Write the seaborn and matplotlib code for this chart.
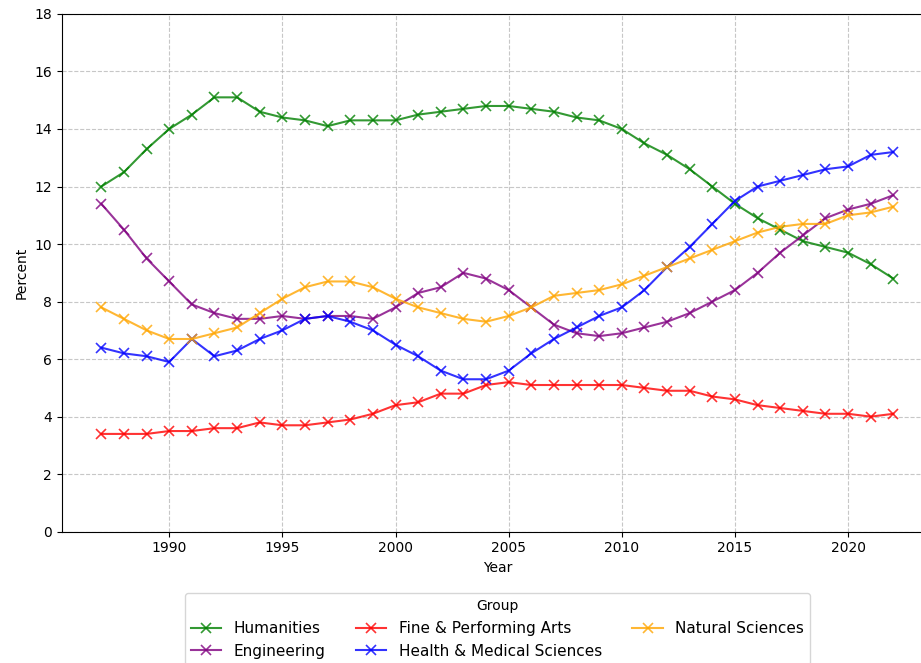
import numpy as np
import pandas as pd
import matplotlib
matplotlib.use("Agg")
import matplotlib.pyplot as plt
import seaborn as sns

# ---------------------------------------------------
# Data (percent of degrees by group)
# ---------------------------------------------------
years = list(range(1987, 2023))

humanities = [12.0, 12.5, 13.3, 14.0, 14.5, 15.1, 15.1, 14.6, 14.4, 14.3, 14.1, 14.3,
              14.3, 14.3, 14.5, 14.6, 14.7, 14.8, 14.8, 14.7, 14.6, 14.4, 14.3, 14.0,
              13.5, 13.1, 12.6, 12.0, 11.4, 10.9, 10.5, 10.1, 9.9, 9.7, 9.3, 8.8]
engineering = [11.4, 10.5, 9.5, 8.7, 7.9, 7.6, 7.4, 7.4, 7.5, 7.4, 7.5, 7.5,
               7.4, 7.8, 8.3, 8.5, 9.0, 8.8, 8.4, 7.8, 7.2, 6.9, 6.8, 6.9,
               7.1, 7.3, 7.6, 8.0, 8.4, 9.0, 9.7, 10.3, 10.9, 11.2, 11.4, 11.7]
fine_arts = [3.4, 3.4, 3.4, 3.5, 3.5, 3.6, 3.6, 3.8, 3.7, 3.7, 3.8, 3.9,
             4.1, 4.4, 4.5, 4.8, 4.8, 5.1, 5.2, 5.1, 5.1, 5.1, 5.1, 5.1,
             5.0, 4.9, 4.9, 4.7, 4.6, 4.4, 4.3, 4.2, 4.1, 4.1, 4.0, 4.1]
health = [6.4, 6.2, 6.1, 5.9, 6.7, 6.1, 6.3, 6.7, 7.0, 7.4, 7.5, 7.3,
          7.0, 6.5, 6.1, 5.6, 5.3, 5.3, 5.6, 6.2, 6.7, 7.1, 7.5, 7.8,
          8.4, 9.2, 9.9, 10.7, 11.5, 12.0, 12.2, 12.4, 12.6, 12.7, 13.1, 13.2]
natural = [7.8, 7.4, 7.0, 6.7, 6.7, 6.9, 7.1, 7.6, 8.1, 8.5, 8.7, 8.7,
           8.5, 8.1, 7.8, 7.6, 7.4, 7.3, 7.5, 7.8, 8.2, 8.3, 8.4, 8.6,
           8.9, 9.2, 9.5, 9.8, 10.1, 10.4, 10.6, 10.7, 10.7, 11.0, 11.1, 11.3]

groups = ["Humanities", "Engineering", "Fine & Performing Arts",
          "Health & Medical Sciences", "Natural Sciences"]
colors = ["green", "purple", "red", "blue", "orange"]

# long format for seaborn
df = pd.DataFrame({"Year": years * 5,
                   "Percent": humanities + engineering + fine_arts + health + natural,
                   "Group": np.repeat(groups, len(years))})

# ---------------------------------------------------
# Plot
# the reference is cropped on the right, so the axes run past the edge
# ---------------------------------------------------
fig, ax = plt.subplots(figsize=(9.21, 6.63), dpi=100)
fig.subplots_adjust(left=0.067, right=1.013, top=0.979, bottom=0.198)

# one call per group so the x markers keep the line colour
for g, c in zip(groups, colors):
    sns.lineplot(data=df[df["Group"] == g], x="Year", y="Percent",
                 color=c, marker="x", markersize=7, markeredgewidth=1.2,
                 markeredgecolor=c, alpha=0.8, label=g, ax=ax)

ax.set_ylim(0, 18)
ax.set_yticks(range(0, 19, 2))
ax.grid(True, linestyle="--", alpha=0.7)
ax.set_xlabel("Year")
ax.set_ylabel("Percent")

ax.legend(title="Group", loc="upper center", bbox_to_anchor=(0.5, -0.104),
          ncol=3, fontsize=11, title_fontsize=10)

plt.savefig("out.png", dpi=100)
